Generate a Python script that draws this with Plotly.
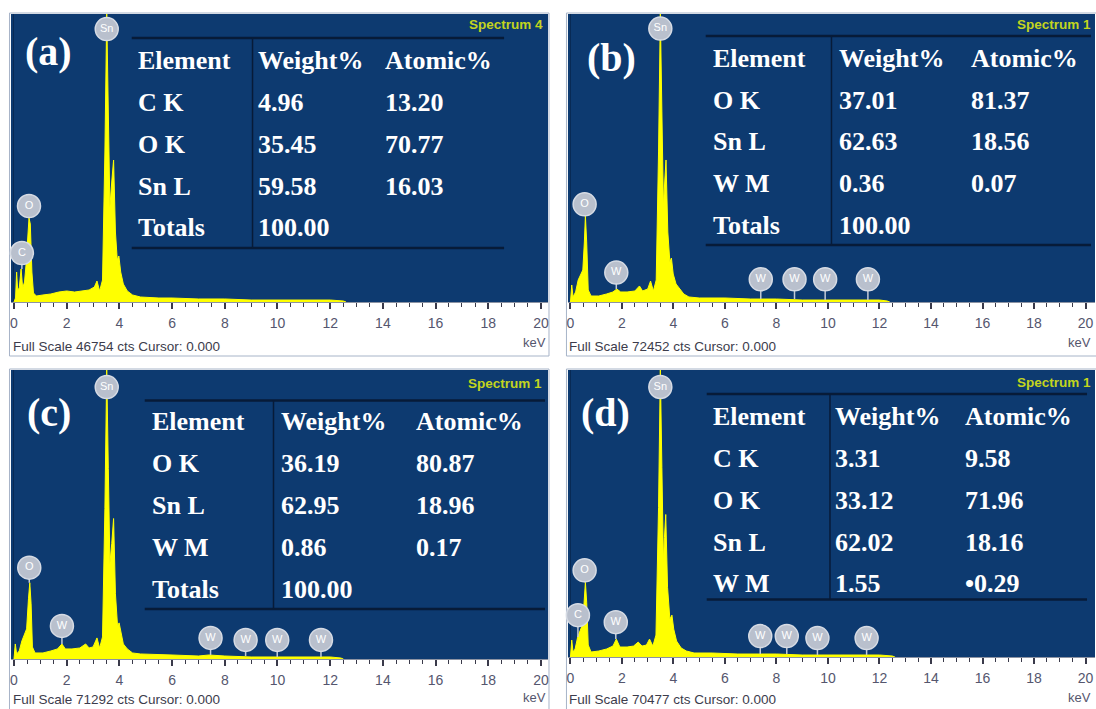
import plotly.graph_objects as go

# ---------------- spectra (energy in keV, intensity in counts) ----------------
a_energy = [0.00, 0.06, 0.10, 0.14, 0.20, 0.27, 0.33, 0.40, 0.46, 0.52, 0.57, 0.62, 0.68, 0.74, 0.85,
            1.10, 1.40, 1.70, 2.00, 2.30, 2.60, 2.85, 3.05, 3.15, 3.25, 3.36, 3.45, 3.52, 3.58, 3.64,
            3.71, 3.78, 3.85, 3.92, 3.98, 4.05, 4.15, 4.30, 4.50, 4.80, 5.50, 6.00, 7.00, 8.00, 9.00,
            10.00, 11.00, 12.00, 12.50, 12.60]
a_counts = [0, 650, 4870, 1950, 2270, 5360, 2270, 3250, 6170, 10710, 13630, 12660, 4870, 1460, 970,
            1140, 1300, 1620, 1790, 1620, 1790, 1950, 2430, 3410, 1790, 3570, 24350, 46754, 30840, 15420,
            19480, 23050, 11360, 6820, 7470, 4870, 2920, 1790, 1140, 810, 650, 650, 490, 490, 320,
            320, 320, 320, 160, 0]

b_energy = [0.00, 0.05, 0.10, 0.20, 0.30, 0.40, 0.48, 0.54, 0.58, 0.63, 0.69, 0.80, 1.10, 1.40, 1.65,
            1.80, 1.95, 2.20, 2.50, 2.68, 2.80, 3.00, 3.11, 3.22, 3.33, 3.42, 3.49, 3.55, 3.61, 3.66,
            3.71, 3.78, 3.86, 3.92, 3.99, 4.10, 4.23, 4.40, 4.60, 5.00, 6.00, 7.00, 8.00, 9.00, 10.00,
            11.00, 12.00, 12.30, 12.40]
b_counts = [0, 4280, 1260, 2520, 5540, 6790, 8050, 15100, 21640, 15100, 3020, 1510, 1510, 2010, 2520,
            3270, 2520, 2520, 2770, 4030, 2770, 3270, 5280, 2770, 5540, 37740, 72452, 47800, 23900, 30190,
            35730, 17610, 10060, 11070, 7040, 4530, 3520, 2010, 1260, 1010, 1010, 750, 750, 500, 500,
            500, 500, 250, 0]

c_energy = [0.00, 0.05, 0.10, 0.20, 0.30, 0.40, 0.48, 0.55, 0.60, 0.65, 0.70, 0.80, 1.10, 1.40, 1.65,
            1.82, 1.95, 2.20, 2.50, 2.72, 2.85, 3.00, 3.15, 3.25, 3.36, 3.45, 3.52, 3.58, 3.64, 3.71,
            3.78, 3.85, 3.93, 3.99, 4.06, 4.15, 4.30, 4.50, 4.80, 5.50, 6.00, 7.00, 7.40, 8.00, 9.00,
            10.00, 11.00, 12.00, 12.40, 12.50]
c_counts = [0, 3710, 1240, 1980, 4460, 6190, 7430, 14850, 18810, 13610, 2970, 1490, 1490, 1980, 2480,
            3710, 2480, 2480, 2720, 3710, 2720, 2970, 5200, 2720, 5450, 37130, 71292, 47030, 23510, 28460,
            34650, 16090, 8170, 8910, 6190, 3710, 2480, 1490, 1240, 990, 990, 740, 990, 740, 500,
            500, 500, 500, 250, 0]

d_energy = [0.00, 0.05, 0.10, 0.18, 0.28, 0.38, 0.46, 0.53, 0.58, 0.63, 0.69, 0.80, 1.10, 1.40, 1.65,
            1.78, 1.92, 2.20, 2.45, 2.63, 2.78, 2.95, 3.07, 3.20, 3.32, 3.42, 3.49, 3.55, 3.61, 3.65,
            3.70, 3.77, 3.86, 3.94, 4.01, 4.12, 4.30, 4.50, 4.80, 5.50, 6.50, 7.40, 8.00, 9.00, 10.00,
            11.00, 12.00, 12.50, 12.60]
d_counts = [0, 4160, 1220, 1960, 4890, 6850, 7830, 13460, 18350, 13460, 2940, 1220, 1470, 1960, 2690,
            4400, 2450, 2450, 2690, 3670, 2690, 2940, 4400, 2690, 5380, 36710, 70477, 46490, 23250, 29360,
            34990, 17130, 9300, 10280, 6850, 3920, 2200, 1470, 980, 980, 730, 730, 730, 490, 490,
            490, 490, 240, 0]

full_scale = [46754, 72452, 71292, 70477]
spectrum_names = ["Spectrum 4", "Spectrum 1", "Spectrum 1", "Spectrum 1"]
panel_letters = ["(a)", "(b)", "(c)", "(d)"]

# element badges: (symbol, energy keV, badge height cts, stem foot cts)
a_badges = [("Sn", 3.52, 44310, 44310), ("O", 0.57, 15580, 13630), ("C", 0.30, 7950, 5360)]
b_badges = [("Sn", 3.49, 68780, 68780), ("O", 0.55, 24580, 21640), ("W", 1.78, 7400, 3270),
            ("W", 7.39, 5710, 750), ("W", 8.70, 5710, 750), ("W", 9.89, 5710, 500), ("W", 11.55, 5710, 500)]
c_badges = [("Sn", 3.52, 67070, 67070), ("O", 0.58, 22520, 18810), ("W", 1.82, 8170, 3710),
            ("W", 7.46, 5200, 990), ("W", 8.79, 4700, 740), ("W", 9.99, 4700, 500), ("W", 11.65, 4700, 500)]
d_badges = [("Sn", 3.49, 66310, 66310), ("O", 0.55, 21290, 18350), ("C", 0.29, 10280, 4890),
            ("W", 1.76, 8560, 4400), ("W", 7.37, 5140, 730), ("W", 8.40, 5140, 730), ("W", 9.59, 4650, 490),
            ("W", 11.50, 4650, 490)]

# ---------------- quantification tables ----------------
table_header = ["Element", "Weight%", "Atomic%"]
a_elements = ["C K", "O K", "Sn L", "Totals"]
a_weight = ["4.96", "35.45", "59.58", "100.00"]
a_atomic = ["13.20", "70.77", "16.03", ""]
b_elements = ["O K", "Sn L", "W M", "Totals"]
b_weight = ["37.01", "62.63", "0.36", "100.00"]
b_atomic = ["81.37", "18.56", "0.07", ""]
c_elements = ["O K", "Sn L", "W M", "Totals"]
c_weight = ["36.19", "62.95", "0.86", "100.00"]
c_atomic = ["80.87", "18.96", "0.17", ""]
d_elements = ["C K", "O K", "Sn L", "W M"]
d_weight = ["3.31", "33.12", "62.02", "1.55"]
d_atomic = ["9.58", "71.96", "18.16", "\u20220.29"]

# ---------------- page geometry (pixels) ----------------
W, H = 1096, 709


def fx(p):
    return p / W


def fy(p):
    return 1 - p / H


NAVY = "#0d3a70"
YELLOW = "#ffff00"
BADGE = "#b9c0cd"
BADGE_EDGE = "#d6dbe4"
STEM = "#c3cad6"
RULE = "#071b38"
TICK_TXT = "#55566e"
SANS = "Liberation Sans, Arial, sans-serif"
SERIF = "Liberation Serif, Times New Roman, serif"

panels = [
    dict(energy=a_energy, counts=a_counts, badges=a_badges,
         rows=list(zip(a_elements, a_weight, a_atomic)),
         left=10, right=548, top=14, bottom=302, x0=13, ppk=26.4, frame=(8.5, 549, 13, 356),
         tbl=dict(top=38, bottom=248, left=131, div=252, right=504, cols=(135, 255, 383), row0=61, step=41.7),
         letter=(48, 51), spec=(545, 25), fs_xy=(10, 346), kev=(548, 342)),
    dict(energy=b_energy, counts=b_counts, badges=b_badges,
         rows=list(zip(b_elements, b_weight, b_atomic)),
         left=568, right=1096, top=14, bottom=302, x0=570.5, ppk=25.8, frame=(566.5, 1110, 13, 356),
         tbl=dict(top=36, bottom=245, left=706, div=832, right=1092, cols=(711, 838, 970), row0=58.5, step=41.7),
         letter=(612, 58), spec=(1094, 25), fs_xy=(567, 346), kev=(1094, 342)),
    dict(energy=c_energy, counts=c_counts, badges=c_badges,
         rows=list(zip(c_elements, c_weight, c_atomic)),
         left=10, right=548, top=370, bottom=659, x0=13, ppk=26.4, frame=(8.5, 549, 369, 720),
         tbl=dict(top=400.5, bottom=609, left=144, div=273, right=545, cols=(149.5, 278.5, 413.5), row0=421.7, step=42),
         letter=(48, 412), spec=(544, 383), fs_xy=(10, 699), kev=(548, 697)),
    dict(energy=d_energy, counts=d_counts, badges=d_badges,
         rows=list(zip(d_elements, d_weight, d_atomic)),
         left=568, right=1096, top=370, bottom=657, x0=570.5, ppk=25.8, frame=(566.5, 1110, 369, 720),
         tbl=dict(top=394, bottom=599.5, left=707, div=830.5, right=1088, cols=(711.5, 834, 964), row0=416.7, step=41.8),
         letter=(606, 412), spec=(1094, 382), fs_xy=(567, 699), kev=(1094, 697)),
]

fig = go.Figure()
layout = {}
shapes = []
annotations = []

for i, p in enumerate(panels, start=1):
    xa = "x" if i == 1 else f"x{i}"
    ya = "y" if i == 1 else f"y{i}"
    fs = full_scale[i - 1]

    # spectrum trace
    fig.add_trace(go.Scatter(x=p["energy"], y=p["counts"], mode="lines",
                             line=dict(color=YELLOW, width=1), fill="tozeroy", fillcolor=YELLOW,
                             xaxis=xa, yaxis=ya, hoverinfo="skip", showlegend=False))

    # element badge stems
    sx, sy = [], []
    for sym, e, yc, yb in p["badges"]:
        if yb < yc:
            sx += [e, e, None]
            sy += [yc, yb, None]
    fig.add_trace(go.Scatter(x=sx, y=sy, mode="lines", line=dict(color=STEM, width=1.5),
                             xaxis=xa, yaxis=ya, hoverinfo="skip", showlegend=False))

    # element badges
    fig.add_trace(go.Scatter(x=[b[1] for b in p["badges"]], y=[b[2] for b in p["badges"]],
                             mode="markers+text", text=[b[0] for b in p["badges"]],
                             textposition="middle center",
                             textfont=dict(color="white", size=11, family=SANS),
                             marker=dict(size=23, color=BADGE, line=dict(color=BADGE_EDGE, width=1.5)),
                             xaxis=xa, yaxis=ya, hoverinfo="skip", showlegend=False, cliponaxis=False))

    # axes
    key = "" if i == 1 else str(i)
    layout["xaxis" + key] = dict(
        domain=[fx(p["left"]), fx(p["right"])],
        range=[(p["left"] - p["x0"]) / p["ppk"], (p["right"] - p["x0"]) / p["ppk"]],
        anchor=ya, tickmode="linear", tick0=0, dtick=2,
        ticks="outside", ticklen=6, tickwidth=1.5, tickcolor="#3a3a4a",
        minor=dict(dtick=0.5, ticks="outside", ticklen=4, tickwidth=1, tickcolor="#3a3a4a"),
        tickfont=dict(family=SANS, size=14, color=TICK_TXT), ticklabelstandoff=2,
        showgrid=False, zeroline=True, zerolinecolor="#082a55", zerolinewidth=1,
        showline=True, linecolor="#8c93a3", linewidth=1, fixedrange=True)
    layout["yaxis" + key] = dict(domain=[fy(p["bottom"]), fy(p["top"])], range=[0, fs],
                                 anchor=xa, visible=False, fixedrange=True)

    # panel frame
    fl, fr, ft, fb = p["frame"]
    shapes.append(dict(type="rect", xref="paper", yref="paper", x0=fx(fl), x1=fx(fr), y0=fy(fb), y1=fy(ft),
                       line=dict(color="#a7b4c8", width=1), fillcolor="rgba(0,0,0,0)", layer="below"))

    # table rules
    t = p["tbl"]
    for yy in (t["top"], t["bottom"]):
        shapes.append(dict(type="line", xref="paper", yref="paper", x0=fx(t["left"]), x1=fx(t["right"]),
                           y0=fy(yy), y1=fy(yy), line=dict(color=RULE, width=2.5)))
    shapes.append(dict(type="line", xref="paper", yref="paper", x0=fx(t["div"]), x1=fx(t["div"]),
                       y0=fy(t["top"]), y1=fy(t["bottom"]), line=dict(color=RULE, width=1.5)))

    # table text
    rows = [tuple(table_header)] + p["rows"]
    for r, row in enumerate(rows):
        yy = t["row0"] + r * t["step"]
        for c, cell in enumerate(row):
            if not cell:
                continue
            annotations.append(dict(text="<b>" + cell + "</b>", xref="paper", yref="paper",
                                    x=fx(t["cols"][c]), y=fy(yy),
                                    xanchor="left", yanchor="middle", showarrow=False,
                                    font=dict(family=SERIF, size=26, color="white")))

    # panel letter
    lx, ly = p["letter"]
    annotations.append(dict(text="<b>" + panel_letters[i - 1] + "</b>", xref="paper", yref="paper",
                            x=fx(lx), y=fy(ly), xanchor="center", yanchor="middle", showarrow=False,
                            font=dict(family=SERIF, size=40, color="white")))

    # spectrum name
    sxp, syp = p["spec"]
    annotations.append(dict(text="<b>" + spectrum_names[i - 1] + "</b>", xref="paper", yref="paper",
                            x=fx(sxp), y=fy(syp),
                            xanchor="right", yanchor="middle", showarrow=False,
                            font=dict(family=SANS, size=13.5, color="#c3d41e")))

    # footer text
    fxp, fyp = p["fs_xy"]
    annotations.append(dict(text=f"Full Scale {fs} cts Cursor: 0.000", xref="paper", yref="paper",
                            x=fx(fxp), y=fy(fyp), xanchor="left", yanchor="middle", showarrow=False,
                            font=dict(family=SANS, size=13.5, color="#3c3c4c")))
    kx, ky = p["kev"]
    annotations.append(dict(text="keV", xref="paper", yref="paper", x=fx(kx), y=fy(ky),
                            xanchor="right", yanchor="middle", showarrow=False,
                            font=dict(family=SANS, size=13, color=TICK_TXT)))

fig.update_layout(
    width=W, height=H, margin=dict(l=0, r=0, t=0, b=0),
    paper_bgcolor="white", plot_bgcolor=NAVY, showlegend=False,
    shapes=shapes, annotations=annotations, **layout)

fig.write_html("out.html")
